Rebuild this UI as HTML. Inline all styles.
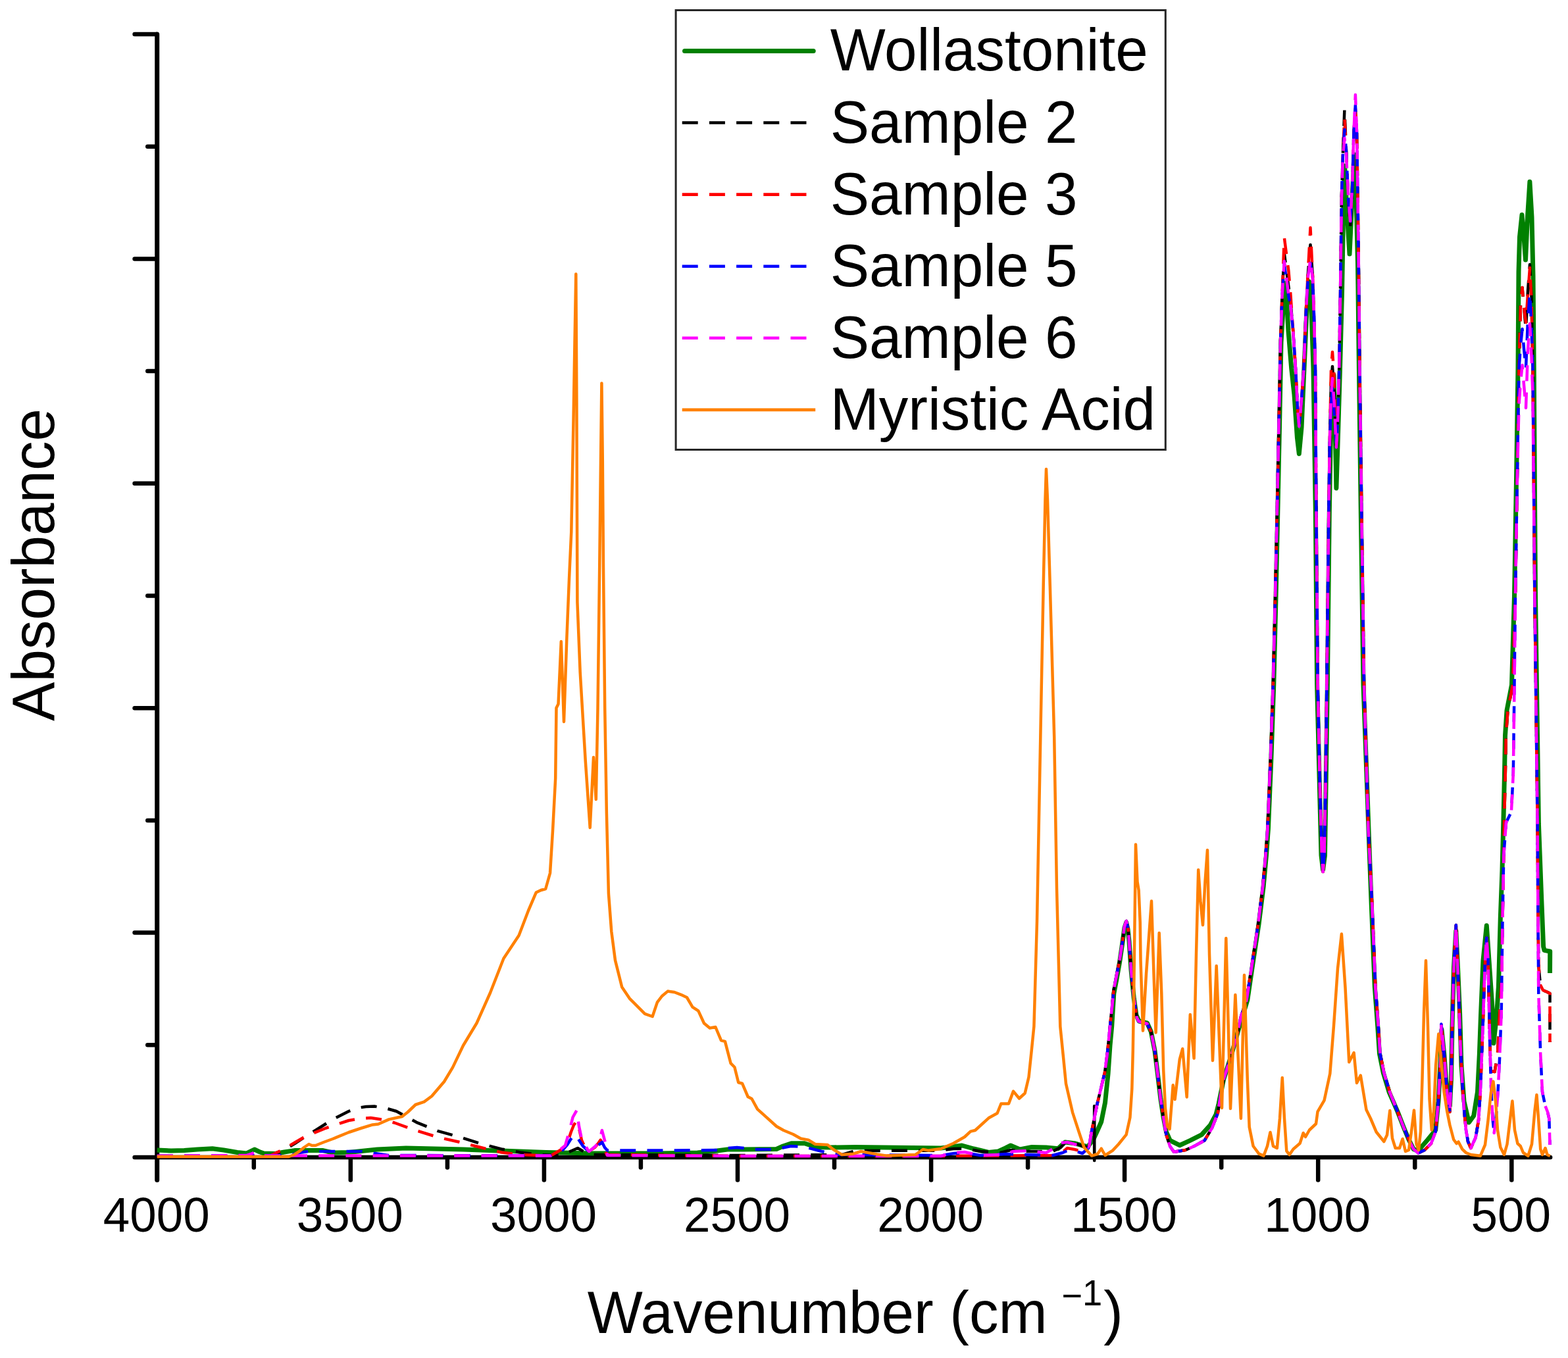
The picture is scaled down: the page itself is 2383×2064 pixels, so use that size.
<!DOCTYPE html>
<html lang="en"><head><meta charset="utf-8"><title>FTIR absorbance spectra</title>
<style>html,body{margin:0;padding:0;background:#fff}svg{display:block}text{font-family:"Liberation Sans",Arial,Helvetica,sans-serif;fill:#000}</style></head><body>
<svg xmlns="http://www.w3.org/2000/svg" width="2383" height="2064" viewBox="0 0 2383 2064">
<rect width="2383" height="2064" fill="#fff"/>
<g stroke="#000" fill="none"><path d="M238.75 52 V1793.4" stroke-width="7" stroke-linecap="round"/><path d="M238.75 1759.0 H2356.1" stroke-width="6.6" stroke-linecap="round"/><g stroke-width="6.5" stroke-linecap="round"><path d="M204.6 52.0 H237.75"/><path d="M224.3 222.7 H237.75"/><path d="M204.6 393.4 H237.75"/><path d="M224.3 564.1 H237.75"/><path d="M204.6 734.8 H237.75"/><path d="M224.3 905.5 H237.75"/><path d="M204.6 1076.2 H237.75"/><path d="M224.3 1246.9 H237.75"/><path d="M204.6 1417.6 H237.75"/><path d="M224.3 1588.3 H237.75"/><path d="M204.6 1759.0 H237.75"/><path d="M532.8 1760.0 V1793.4"/><path d="M826.9 1760.0 V1793.4"/><path d="M1121.0 1760.0 V1793.4"/><path d="M1415.1 1760.0 V1793.4"/><path d="M1709.1 1760.0 V1793.4"/><path d="M2003.2 1760.0 V1793.4"/><path d="M2297.3 1760.0 V1793.4"/><path d="M385.8 1760.0 V1774.6"/><path d="M679.9 1760.0 V1774.6"/><path d="M973.9 1760.0 V1774.6"/><path d="M1268.0 1760.0 V1774.6"/><path d="M1562.1 1760.0 V1774.6"/><path d="M1856.2 1760.0 V1774.6"/><path d="M2150.3 1760.0 V1774.6"/></g></g>
<g>
<path d="M238.8 1748.0 L260.0 1749.0 L280.0 1748.5 L300.0 1747.0 L322.8 1745.7 L340.0 1748.0 L360.6 1751.5 L375.0 1753.0 L381.0 1750.0 L386.7 1747.0 L394.0 1750.5 L401.0 1753.0 L418.6 1753.5 L432.0 1751.0 L447.6 1748.6 L491.0 1748.6 L505.6 1752.0 L530.0 1751.5 L573.5 1747.0 L617.0 1745.0 L704.0 1747.0 L830.0 1751.5 L900.0 1753.0 L1000.0 1753.0 L1060.0 1752.0 L1090.0 1749.0 L1105.6 1747.0 L1130.0 1747.0 L1180.0 1746.5 L1190.0 1742.0 L1202.5 1737.7 L1222.8 1737.7 L1240.0 1743.5 L1260.6 1744.0 L1300.0 1743.5 L1430.0 1745.0 L1450.0 1742.5 L1462.0 1741.0 L1480.0 1746.0 L1502.5 1751.5 L1517.0 1750.0 L1528.0 1745.0 L1536.0 1741.0 L1543.0 1744.0 L1550.0 1747.0 L1568.0 1743.5 L1590.0 1744.0 L1608.0 1745.7 L1613.0 1741.0 L1618.6 1736.0 L1633.0 1737.7 L1644.7 1741.0 L1653.4 1742.8 L1662.0 1731.0 L1668.0 1718.0 L1673.7 1705.0 L1679.5 1676.0 L1684.0 1632.5 L1687.0 1589.0 L1689.7 1560.0 L1692.8 1510.0 L1697.0 1488.0 L1701.5 1463.0 L1706.0 1432.0 L1709.0 1410.0 L1711.7 1402.0 L1714.0 1412.0 L1716.0 1430.6 L1719.0 1474.0 L1723.3 1517.6 L1727.0 1543.0 L1731.0 1552.0 L1743.5 1555.0 L1749.3 1568.0 L1755.0 1597.0 L1759.5 1633.3 L1763.8 1669.6 L1768.2 1698.6 L1772.5 1720.4 L1778.3 1733.4 L1792.8 1740.7 L1808.8 1733.4 L1826.2 1724.7 L1839.3 1710.2 L1848.0 1694.0 L1852.3 1676.8 L1859.6 1640.6 L1871.2 1604.3 L1881.3 1568.0 L1888.0 1546.0 L1895.8 1520.0 L1904.2 1463.0 L1913.0 1405.0 L1920.2 1347.0 L1924.5 1300.0 L1927.4 1260.0 L1932.0 1150.0 L1935.8 1040.0 L1939.0 910.0 L1941.8 780.0 L1944.5 650.0 L1947.0 520.0 L1950.0 470.0 L1954.0 430.0 L1958.0 503.0 L1962.7 560.0 L1967.0 600.0 L1971.4 665.0 L1974.3 689.7 L1978.0 650.0 L1982.0 560.0 L1986.0 470.0 L1989.5 428.0 L1993.0 470.0 L1996.0 560.0 L1999.4 780.0 L2001.6 1040.0 L2008.0 1300.0 L2010.6 1322.0 L2013.5 1300.0 L2017.4 1040.0 L2020.3 780.0 L2022.0 680.0 L2024.5 600.0 L2027.0 570.0 L2029.0 640.0 L2030.9 742.0 L2033.5 660.0 L2036.5 560.0 L2039.5 445.0 L2041.5 330.0 L2043.6 252.0 L2047.0 320.0 L2051.0 386.0 L2055.0 300.0 L2058.4 235.0 L2061.0 300.0 L2063.5 400.0 L2065.4 560.0 L2068.3 780.0 L2072.0 1040.0 L2081.4 1300.0 L2084.3 1376.0 L2089.3 1500.0 L2093.6 1558.0 L2096.5 1601.6 L2102.3 1630.6 L2111.0 1659.6 L2123.6 1688.6 L2133.8 1714.7 L2141.0 1732.0 L2148.3 1746.6 L2155.5 1749.0 L2161.3 1742.0 L2170.0 1732.0 L2181.7 1717.6 L2186.0 1674.0 L2189.0 1616.0 L2191.0 1565.0 L2194.7 1601.5 L2199.0 1659.6 L2203.4 1681.0 L2205.5 1640.0 L2207.0 1560.0 L2209.5 1470.0 L2212.8 1415.0 L2215.5 1470.0 L2218.6 1540.0 L2221.0 1620.0 L2225.0 1674.0 L2232.4 1706.0 L2239.7 1696.0 L2245.5 1659.6 L2248.4 1601.6 L2250.5 1543.5 L2254.0 1460.0 L2259.3 1406.7 L2263.0 1460.0 L2265.8 1500.0 L2268.7 1543.5 L2270.0 1585.6 L2274.5 1543.5 L2277.4 1500.0 L2280.3 1395.0 L2283.0 1322.5 L2284.8 1252.0 L2286.5 1176.0 L2287.5 1118.0 L2290.0 1080.0 L2297.5 1041.0 L2301.5 906.0 L2304.5 730.0 L2307.0 560.0 L2308.0 413.0 L2309.5 360.0 L2313.0 326.5 L2316.0 360.0 L2318.5 395.0 L2321.5 330.0 L2324.9 276.2 L2328.0 330.0 L2330.0 420.0 L2331.2 560.0 L2333.5 906.0 L2338.4 1252.0 L2342.7 1366.0 L2345.6 1438.6 L2347.0 1444.4 L2355.7 1446.0 L2355.5 1479.0" fill="none" stroke="#008000" stroke-width="7.0" stroke-linejoin="round"/>
<path d="M238.8 1757.0 L415.0 1757.0 L423.0 1752.0 L435.0 1745.5 L447.6 1738.4 L463.0 1728.0 L479.5 1718.0 L505.6 1701.4 L530.0 1689.0 L543.0 1684.0 L556.0 1682.0 L569.0 1681.6 L585.0 1684.0 L602.5 1689.0 L633.0 1705.8 L665.0 1718.9 L696.8 1727.6 L728.8 1737.7 L762.0 1746.4 L791.0 1751.5 L820.0 1755.0 L850.0 1756.0 L862.0 1752.0 L878.0 1745.0 L890.0 1752.0 L900.0 1755.0 L1130.0 1756.0 L1280.0 1755.0 L1300.0 1749.0 L1430.0 1748.6 L1449.0 1746.0 L1466.0 1745.5 L1490.0 1750.0 L1520.0 1752.0 L1536.0 1748.0 L1560.0 1750.0 L1600.0 1750.0 L1612.0 1744.0 L1620.0 1735.0 L1633.0 1737.0 L1645.0 1742.0 L1655.0 1744.0" fill="none" stroke="#000000" stroke-width="4.5" stroke-linejoin="round" stroke-dasharray="24 17.2" stroke-dashoffset="0.0"/>
<path d="M1663.2 1681 V1764" fill="none" stroke="#000" stroke-width="4.6" stroke-linecap="round"/>
<path d="M1655.0 1744.0 L1658.0 1725.0 L1662.0 1705.0 L1667.0 1680.0 L1673.0 1655.0 L1679.0 1630.0 L1683.0 1600.0 L1687.0 1560.0 L1692.8 1503.0 L1701.5 1459.6 L1706.0 1430.6 L1708.8 1408.8 L1711.7 1400.0 L1714.5 1412.0 L1716.0 1430.6 L1719.0 1474.0 L1723.3 1517.6 L1727.7 1546.6 L1730.6 1552.4 L1743.5 1556.0 L1749.3 1568.0 L1755.0 1597.0 L1759.5 1633.3 L1763.8 1669.6 L1768.2 1698.6 L1772.5 1725.0 L1778.0 1742.0 L1784.0 1750.8 L1801.5 1748.0 L1815.0 1742.0 L1830.6 1733.4 L1842.0 1714.5 L1850.9 1691.3 L1855.0 1665.0 L1859.6 1640.6 L1871.2 1604.3 L1881.3 1568.0 L1885.7 1546.0 L1894.5 1520.0 L1903.2 1463.0 L1912.0 1405.0 L1919.2 1347.0 L1923.5 1300.0 L1926.4 1260.0 L1931.0 1150.0 L1934.8 1040.0 L1938.0 910.0 L1940.8 780.0 L1943.5 650.0 L1946.0 520.0 L1948.5 450.0 L1951.8 385.0 L1955.0 410.0 L1958.3 435.0 L1961.2 457.0 L1965.0 500.0 L1969.0 560.0 L1972.0 620.0 L1974.3 648.0 L1977.0 620.0 L1981.5 560.0 L1984.5 480.0 L1987.5 420.0 L1991.5 372.0 L1995.0 420.0 L1997.0 480.0 L1999.0 560.0 L2000.4 780.0 L2002.6 1040.0 L2006.0 1200.0 L2009.0 1300.0 L2010.6 1325.0 L2012.5 1300.0 L2014.5 1200.0 L2016.4 1040.0 L2018.0 900.0 L2019.3 780.0 L2021.0 665.0 L2023.0 582.0 L2025.0 557.0 L2027.5 592.0 L2029.5 650.0 L2030.9 680.0 L2033.0 640.0 L2035.2 560.0 L2037.0 445.0 L2038.9 300.0 L2041.0 230.0 L2043.4 166.0 L2046.0 230.0 L2049.0 305.0 L2052.0 345.0 L2055.0 295.0 L2057.5 200.0 L2059.9 170.0 L2062.0 200.0 L2063.5 300.0 L2065.0 420.0 L2066.4 560.0 L2069.3 780.0 L2073.0 1040.0 L2079.5 1260.0 L2085.3 1376.0 L2090.3 1500.0 L2094.6 1558.0 L2097.5 1601.6 L2103.3 1630.6 L2112.0 1659.6 L2123.6 1688.6 L2133.8 1714.7 L2141.0 1732.0 L2148.3 1746.6 L2155.5 1752.4 L2165.0 1748.0 L2175.0 1738.0 L2181.7 1720.0 L2186.0 1674.0 L2189.0 1616.0 L2190.4 1556.6 L2194.7 1601.5 L2199.0 1659.6 L2203.4 1690.0 L2205.5 1640.0 L2207.0 1560.0 L2209.5 1470.0 L2212.8 1406.0 L2216.5 1500.0 L2219.4 1587.0 L2222.3 1645.0 L2225.2 1688.6 L2228.0 1717.6 L2231.0 1735.0 L2235.3 1745.0 L2242.6 1729.0 L2247.0 1703.0 L2249.8 1659.6 L2252.0 1601.6 L2254.2 1543.5 L2255.6 1500.0 L2257.5 1450.0 L2259.3 1425.5 L2261.5 1460.0 L2264.3 1587.0 L2265.8 1627.7 L2271.6 1629.0 L2276.0 1601.6 L2279.0 1540.0 L2281.7 1500.0 L2283.5 1400.0 L2285.3 1300.0 L2286.0 1252.0 L2287.8 1176.0 L2288.8 1118.0 L2291.5 1080.0 L2299.0 1041.0 L2303.0 906.0 L2305.8 730.0 L2308.5 560.0 L2311.0 462.0 L2313.5 437.0 L2316.0 467.0 L2319.0 500.0 L2322.0 442.0 L2325.0 402.0 L2327.5 452.0 L2329.5 560.0 L2332.4 906.0 L2336.6 1252.0 L2337.5 1400.0 L2338.5 1470.0 L2341.0 1497.0 L2345.0 1505.0 L2352.0 1508.0 L2355.5 1510.0 L2355.5 1584.0" fill="none" stroke="#000000" stroke-width="4.5" stroke-linejoin="round" stroke-dasharray="24 17.2" stroke-dashoffset="23.2"/>
<path d="M238.8 1757.0 L410.0 1757.0 L420.0 1752.0 L433.0 1745.7 L449.0 1736.0 L465.0 1726.8 L495.5 1714.5 L530.0 1703.0 L548.0 1700.0 L563.4 1699.0 L580.0 1701.5 L599.6 1706.5 L631.5 1718.0 L665.0 1728.3 L696.8 1735.5 L728.8 1743.5 L762.0 1751.5 L791.0 1755.0 L837.0 1756.5 L855.0 1746.0 L863.0 1735.0 L868.0 1720.0 L872.0 1710.0 L876.4 1703.6 L880.0 1715.0 L884.0 1733.0 L890.0 1746.0 L895.0 1750.0 L904.0 1744.0 L909.0 1738.0 L912.7 1732.6 L917.0 1742.0 L922.0 1755.0 L1130.0 1757.0 L1430.0 1757.0 L1600.0 1756.0 L1614.0 1752.0 L1622.0 1745.0 L1633.0 1747.0 L1645.0 1750.0 L1655.0 1744.0" fill="none" stroke="#ff0000" stroke-width="4.5" stroke-linejoin="round" stroke-dasharray="24 17.2" stroke-dashoffset="0.0"/>
<path d="M1655.0 1744.0 L1658.0 1725.0 L1662.0 1705.0 L1667.0 1680.0 L1673.0 1655.0 L1679.0 1630.0 L1683.0 1600.0 L1687.0 1560.0 L1692.8 1503.0 L1701.5 1459.6 L1706.0 1430.6 L1708.8 1408.8 L1711.7 1400.0 L1714.5 1412.0 L1716.0 1430.6 L1719.0 1474.0 L1723.3 1517.6 L1727.7 1546.6 L1730.6 1552.4 L1743.5 1556.0 L1749.3 1568.0 L1755.0 1597.0 L1759.5 1633.3 L1763.8 1669.6 L1768.2 1698.6 L1772.5 1725.0 L1778.0 1742.0 L1784.0 1750.8 L1801.5 1748.0 L1815.0 1742.0 L1830.6 1733.4 L1842.0 1714.5 L1850.9 1691.3 L1855.0 1665.0 L1859.6 1640.6 L1871.2 1604.3 L1881.3 1568.0 L1885.7 1546.0 L1894.5 1520.0 L1903.2 1463.0 L1912.0 1405.0 L1919.2 1347.0 L1923.5 1300.0 L1926.4 1260.0 L1931.0 1150.0 L1934.8 1040.0 L1938.0 910.0 L1940.8 780.0 L1943.5 650.0 L1946.0 520.0 L1948.5 450.0 L1951.8 361.0 L1955.0 386.0 L1958.3 411.0 L1961.2 445.0 L1965.0 500.0 L1969.0 560.0 L1972.0 620.0 L1974.3 648.0 L1977.0 620.0 L1981.5 560.0 L1984.5 480.0 L1987.5 420.0 L1991.5 346.0 L1995.0 420.0 L1997.0 480.0 L1999.0 560.0 L2000.4 780.0 L2002.6 1040.0 L2006.0 1200.0 L2009.0 1300.0 L2010.6 1325.0 L2012.5 1300.0 L2014.5 1200.0 L2016.4 1040.0 L2018.0 900.0 L2019.3 780.0 L2021.0 665.0 L2023.0 560.0 L2025.0 535.0 L2027.5 570.0 L2029.5 650.0 L2030.9 680.0 L2033.0 640.0 L2035.2 560.0 L2037.0 445.0 L2038.9 300.0 L2041.0 230.0 L2043.4 179.0 L2046.0 230.0 L2049.0 300.0 L2052.0 340.0 L2055.0 290.0 L2057.5 200.0 L2059.9 165.0 L2062.0 200.0 L2063.5 300.0 L2065.0 420.0 L2066.4 560.0 L2069.3 780.0 L2073.0 1040.0 L2079.5 1260.0 L2085.3 1376.0 L2090.3 1500.0 L2094.6 1558.0 L2097.5 1601.6 L2103.3 1630.6 L2112.0 1659.6 L2123.6 1688.6 L2133.8 1714.7 L2141.0 1732.0 L2148.3 1746.6 L2155.5 1752.4 L2165.0 1748.0 L2175.0 1738.0 L2181.7 1720.0 L2186.0 1674.0 L2189.0 1616.0 L2190.4 1556.6 L2194.7 1601.5 L2199.0 1659.6 L2203.4 1690.0 L2205.5 1640.0 L2207.0 1560.0 L2209.5 1470.0 L2212.8 1406.0 L2216.5 1500.0 L2219.4 1587.0 L2222.3 1645.0 L2225.2 1688.6 L2228.0 1717.6 L2231.0 1735.0 L2235.3 1745.0 L2242.6 1729.0 L2247.0 1703.0 L2249.8 1659.6 L2252.0 1601.6 L2254.2 1543.5 L2255.6 1500.0 L2257.5 1450.0 L2259.3 1425.5 L2261.5 1460.0 L2264.3 1587.0 L2265.8 1627.7 L2271.6 1629.0 L2276.0 1601.6 L2279.0 1540.0 L2281.7 1500.0 L2283.5 1400.0 L2285.3 1300.0 L2286.0 1252.0 L2287.8 1176.0 L2288.8 1118.0 L2291.5 1080.0 L2299.0 1041.0 L2303.0 906.0 L2305.8 730.0 L2308.5 560.0 L2311.0 462.0 L2313.5 437.0 L2316.0 467.0 L2319.0 490.0 L2322.0 447.0 L2325.0 407.0 L2327.5 457.0 L2329.5 560.0 L2332.4 906.0 L2336.6 1252.0 L2337.5 1400.0 L2338.5 1470.0 L2341.0 1497.0 L2345.0 1505.0 L2352.0 1508.0 L2355.5 1510.0 L2355.5 1584.0" fill="none" stroke="#ff0000" stroke-width="4.5" stroke-linejoin="round" stroke-dasharray="24 17.2" stroke-dashoffset="29.2"/>
<path d="M238.8 1757.0 L440.0 1756.0 L455.0 1752.0 L469.0 1750.0 L520.0 1750.0 L550.0 1750.0 L570.0 1753.0 L590.0 1756.0 L837.0 1756.5 L855.0 1748.0 L862.0 1740.0 L867.0 1732.0 L873.5 1724.0 L880.0 1733.0 L886.0 1742.0 L893.8 1749.0 L903.0 1746.0 L910.0 1740.0 L915.0 1736.0 L919.0 1744.0 L923.0 1748.6 L1000.0 1748.6 L1090.0 1748.0 L1105.0 1745.0 L1120.0 1744.0 L1150.0 1747.0 L1180.0 1747.0 L1192.0 1744.0 L1202.0 1742.0 L1222.0 1743.0 L1249.0 1750.0 L1275.0 1755.0 L1430.0 1756.0 L1450.0 1753.0 L1466.0 1752.0 L1490.0 1756.0 L1530.0 1754.0 L1560.0 1755.0 L1600.0 1756.0 L1615.0 1752.0 L1624.0 1748.0 L1636.0 1750.0 L1645.0 1753.0 L1655.0 1744.0" fill="none" stroke="#0000ff" stroke-width="4.5" stroke-linejoin="round" stroke-dasharray="24 17.2" stroke-dashoffset="0.0"/>
<path d="M1655.0 1744.0 L1658.0 1725.0 L1662.0 1705.0 L1667.0 1680.0 L1673.0 1655.0 L1679.0 1630.0 L1683.0 1600.0 L1687.0 1560.0 L1692.8 1503.0 L1701.5 1459.6 L1706.0 1430.6 L1708.8 1408.8 L1711.7 1400.0 L1714.5 1412.0 L1716.0 1430.6 L1719.0 1474.0 L1723.3 1517.6 L1727.7 1546.6 L1730.6 1552.4 L1743.5 1556.0 L1749.3 1568.0 L1755.0 1597.0 L1759.5 1633.3 L1763.8 1669.6 L1768.2 1698.6 L1772.5 1725.0 L1778.0 1742.0 L1784.0 1750.8 L1801.5 1748.0 L1815.0 1742.0 L1830.6 1733.4 L1842.0 1714.5 L1850.9 1691.3 L1855.0 1665.0 L1859.6 1640.6 L1871.2 1604.3 L1881.3 1568.0 L1885.7 1546.0 L1894.5 1520.0 L1903.2 1463.0 L1912.0 1405.0 L1919.2 1347.0 L1923.5 1300.0 L1926.4 1260.0 L1931.0 1150.0 L1934.8 1040.0 L1938.0 910.0 L1940.8 780.0 L1943.5 650.0 L1946.0 520.0 L1948.5 450.0 L1951.8 400.0 L1955.0 425.0 L1958.3 450.0 L1961.2 464.5 L1965.0 500.0 L1969.0 560.0 L1972.0 620.0 L1974.3 648.0 L1977.0 620.0 L1981.5 560.0 L1984.5 480.0 L1987.5 430.0 L1991.5 400.0 L1995.0 430.0 L1997.0 480.0 L1999.0 560.0 L2000.4 780.0 L2002.6 1040.0 L2006.0 1200.0 L2009.0 1300.0 L2010.6 1325.0 L2012.5 1300.0 L2014.5 1200.0 L2016.4 1040.0 L2018.0 900.0 L2019.3 780.0 L2021.0 665.0 L2023.0 615.0 L2025.0 590.0 L2027.5 625.0 L2029.5 650.0 L2030.9 680.0 L2033.0 640.0 L2035.2 560.0 L2037.0 445.0 L2038.9 300.0 L2041.0 230.0 L2043.4 197.0 L2046.0 230.0 L2049.0 300.0 L2052.0 340.0 L2055.0 290.0 L2057.5 200.0 L2059.9 160.0 L2062.0 200.0 L2063.5 300.0 L2065.0 420.0 L2066.4 560.0 L2069.3 780.0 L2073.0 1040.0 L2079.5 1260.0 L2085.3 1376.0 L2090.3 1500.0 L2094.6 1558.0 L2097.5 1601.6 L2103.3 1630.6 L2112.0 1659.6 L2123.6 1688.6 L2133.8 1714.7 L2141.0 1732.0 L2148.3 1746.6 L2155.5 1752.4 L2165.0 1748.0 L2175.0 1738.0 L2181.7 1720.0 L2186.0 1674.0 L2189.0 1616.0 L2190.4 1556.6 L2194.7 1601.5 L2199.0 1659.6 L2203.4 1690.0 L2205.5 1640.0 L2207.0 1560.0 L2209.5 1470.0 L2212.8 1406.0 L2216.5 1500.0 L2219.4 1587.0 L2222.3 1645.0 L2225.2 1688.6 L2228.0 1717.6 L2231.0 1735.0 L2235.3 1745.0 L2242.6 1729.0 L2247.0 1703.0 L2249.8 1659.6 L2252.0 1601.6 L2254.2 1543.5 L2255.6 1500.0 L2257.5 1450.0 L2259.3 1425.5 L2261.5 1460.0 L2264.3 1587.0 L2266.0 1650.0 L2268.5 1700.0 L2270.7 1722.0 L2273.5 1700.0 L2276.5 1660.0 L2279.0 1610.0 L2281.7 1540.0 L2283.5 1400.0 L2285.3 1300.0 L2289.0 1250.0 L2296.9 1234.0 L2299.8 1176.0 L2300.8 1099.0 L2301.5 1041.0 L2303.0 906.0 L2305.8 730.0 L2308.5 560.0 L2311.0 525.0 L2313.5 500.0 L2316.0 530.0 L2319.0 560.0 L2322.0 486.0 L2325.0 446.0 L2327.5 496.0 L2329.5 560.0 L2332.4 906.0 L2336.6 1252.0 L2337.5 1400.0 L2338.3 1510.0 L2341.2 1601.6 L2344.0 1659.6 L2348.5 1681.0 L2352.0 1690.0 L2354.3 1700.0 L2355.5 1740.0" fill="none" stroke="#0000ff" stroke-width="4.5" stroke-linejoin="round" stroke-dasharray="24 17.2" stroke-dashoffset="35.2"/>
<path d="M238.8 1757.0 L375.0 1756.0 L381.0 1754.0 L386.7 1751.5 L393.0 1754.5 L400.0 1756.5 L837.0 1756.5 L848.0 1750.0 L859.0 1741.0 L865.0 1720.0 L870.6 1698.0 L876.4 1687.7 L880.0 1712.0 L884.0 1731.0 L893.8 1748.6 L895.3 1750.0 L905.0 1742.0 L911.0 1735.0 L914.9 1718.0 L920.0 1737.0 L923.0 1756.0 L1130.0 1757.0 L1430.0 1757.0 L1449.0 1752.0 L1466.0 1751.0 L1490.0 1756.0 L1520.0 1755.0 L1540.0 1750.0 L1560.0 1749.0 L1590.0 1752.0 L1604.0 1744.0 L1612.0 1737.0 L1622.0 1736.0 L1636.0 1740.0 L1645.0 1742.0 L1655.0 1744.0" fill="none" stroke="#ff00ff" stroke-width="4.5" stroke-linejoin="round" stroke-dasharray="24 17.2" stroke-dashoffset="0.0"/>
<path d="M1655.0 1744.0 L1658.0 1725.0 L1662.0 1705.0 L1667.0 1680.0 L1673.0 1655.0 L1679.0 1630.0 L1683.0 1600.0 L1687.0 1560.0 L1692.8 1503.0 L1701.5 1459.6 L1706.0 1430.6 L1708.8 1408.8 L1711.7 1400.0 L1714.5 1412.0 L1716.0 1430.6 L1719.0 1474.0 L1723.3 1517.6 L1727.7 1546.6 L1730.6 1552.4 L1743.5 1556.0 L1749.3 1568.0 L1755.0 1597.0 L1759.5 1633.3 L1763.8 1669.6 L1768.2 1698.6 L1772.5 1725.0 L1778.0 1742.0 L1784.0 1750.8 L1801.5 1748.0 L1815.0 1742.0 L1830.6 1733.4 L1842.0 1714.5 L1850.9 1691.3 L1855.0 1665.0 L1859.6 1640.6 L1871.2 1604.3 L1881.3 1568.0 L1885.7 1546.0 L1894.5 1520.0 L1903.2 1463.0 L1912.0 1405.0 L1919.2 1347.0 L1923.5 1300.0 L1926.4 1260.0 L1931.0 1150.0 L1934.8 1040.0 L1938.0 910.0 L1940.8 780.0 L1943.5 650.0 L1946.0 520.0 L1948.5 450.0 L1951.8 397.0 L1955.0 422.0 L1958.3 447.0 L1961.2 463.0 L1965.0 500.0 L1969.0 560.0 L1972.0 620.0 L1974.3 648.0 L1977.0 620.0 L1981.5 560.0 L1984.5 480.0 L1987.5 424.0 L1991.5 394.0 L1995.0 424.0 L1997.0 480.0 L1999.0 560.0 L2000.4 780.0 L2002.6 1040.0 L2006.0 1200.0 L2009.0 1300.0 L2010.6 1325.0 L2012.5 1300.0 L2014.5 1200.0 L2016.4 1040.0 L2018.0 900.0 L2019.3 780.0 L2021.0 665.0 L2023.0 600.0 L2025.0 575.0 L2027.5 610.0 L2029.5 650.0 L2030.9 680.0 L2033.0 640.0 L2035.2 560.0 L2037.0 445.0 L2038.9 300.0 L2041.0 235.0 L2043.4 210.0 L2046.0 235.0 L2049.0 296.0 L2052.0 336.0 L2055.0 286.0 L2057.5 200.0 L2059.9 144.0 L2062.0 200.0 L2063.5 300.0 L2065.0 420.0 L2066.4 560.0 L2069.3 780.0 L2073.0 1040.0 L2079.5 1260.0 L2085.3 1376.0 L2090.3 1500.0 L2094.6 1558.0 L2097.5 1601.6 L2103.3 1630.6 L2112.0 1659.6 L2123.6 1688.6 L2133.8 1714.7 L2141.0 1732.0 L2148.3 1746.6 L2155.5 1752.4 L2165.0 1748.0 L2175.0 1738.0 L2181.7 1720.0 L2186.0 1674.0 L2189.0 1616.0 L2190.4 1556.6 L2194.7 1601.5 L2199.0 1659.6 L2203.4 1690.0 L2205.5 1640.0 L2207.0 1560.0 L2209.5 1470.0 L2212.8 1406.0 L2216.5 1500.0 L2219.4 1587.0 L2222.3 1645.0 L2225.2 1688.6 L2228.0 1717.6 L2231.0 1735.0 L2235.3 1745.0 L2242.6 1729.0 L2247.0 1703.0 L2249.8 1659.6 L2252.0 1601.6 L2254.2 1543.5 L2255.6 1500.0 L2257.5 1450.0 L2259.3 1425.5 L2261.5 1460.0 L2264.3 1587.0 L2266.0 1650.0 L2268.5 1700.0 L2270.7 1722.0 L2273.5 1700.0 L2276.5 1660.0 L2279.0 1610.0 L2281.7 1540.0 L2283.5 1400.0 L2285.3 1300.0 L2289.0 1250.0 L2296.9 1234.0 L2299.8 1176.0 L2300.8 1099.0 L2301.5 1041.0 L2303.0 906.0 L2305.8 730.0 L2308.5 615.0 L2311.0 580.0 L2313.5 555.0 L2316.0 585.0 L2319.0 620.0 L2322.0 532.0 L2325.0 492.0 L2327.5 542.0 L2329.5 602.0 L2332.4 906.0 L2336.6 1252.0 L2337.5 1400.0 L2338.3 1510.0 L2341.2 1601.6 L2344.0 1659.6 L2348.5 1681.0 L2352.0 1690.0 L2354.3 1700.0 L2355.5 1740.0" fill="none" stroke="#ff00ff" stroke-width="4.5" stroke-linejoin="round" stroke-dasharray="24 17.2" stroke-dashoffset="0.0"/>
<path d="M238.8 1758.0 L439.0 1758.0 L447.0 1755.0 L454.9 1750.0 L462.0 1744.0 L469.4 1739.0 L474.0 1741.0 L479.5 1741.0 L492.0 1736.0 L505.6 1731.0 L530.0 1721.0 L548.0 1715.0 L566.3 1709.4 L575.0 1708.5 L591.0 1701.4 L611.2 1697.0 L620.0 1690.0 L631.5 1679.0 L644.6 1674.6 L656.2 1666.0 L675.0 1644.0 L688.0 1622.4 L704.0 1589.0 L724.5 1555.0 L745.0 1509.0 L765.4 1456.7 L788.6 1421.8 L803.0 1384.0 L814.7 1356.6 L822.0 1353.0 L829.2 1351.0 L836.0 1327.0 L840.0 1263.0 L844.2 1183.0 L845.5 1076.0 L848.5 1070.0 L852.8 975.0 L857.0 1097.0 L861.4 969.0 L865.0 880.0 L868.3 808.0 L871.5 640.0 L873.5 520.0 L875.3 416.4 L876.4 610.0 L877.4 915.0 L881.7 1022.0 L889.7 1156.0 L896.7 1258.0 L902.0 1151.0 L905.8 1215.0 L908.5 1076.0 L911.2 862.0 L913.0 700.0 L914.4 582.4 L915.8 700.0 L917.0 862.0 L919.2 1076.0 L921.9 1236.6 L924.9 1358.0 L929.3 1416.0 L935.0 1459.6 L945.2 1500.2 L956.8 1517.6 L980.0 1540.8 L991.6 1545.0 L998.9 1523.4 L1006.0 1514.0 L1014.8 1506.6 L1025.0 1508.0 L1035.0 1511.8 L1043.9 1516.0 L1052.5 1530.6 L1061.3 1536.4 L1070.0 1555.3 L1078.7 1562.5 L1087.4 1561.0 L1096.0 1581.4 L1101.9 1582.9 L1110.6 1616.2 L1116.4 1622.0 L1122.2 1645.2 L1128.0 1646.7 L1136.7 1667.0 L1142.5 1670.0 L1151.2 1685.8 L1165.7 1698.9 L1180.2 1712.0 L1190.9 1718.0 L1205.4 1724.0 L1217.0 1730.5 L1228.7 1732.6 L1238.8 1739.0 L1257.7 1740.0 L1266.4 1747.0 L1279.4 1755.0 L1296.8 1753.7 L1308.4 1750.0 L1333.0 1754.4 L1347.6 1756.6 L1391.0 1755.0 L1402.7 1747.0 L1411.4 1748.6 L1430.0 1746.0 L1449.0 1737.7 L1466.0 1728.0 L1475.0 1719.6 L1482.0 1718.0 L1502.5 1699.3 L1515.6 1692.0 L1521.4 1677.5 L1533.0 1677.5 L1540.0 1658.6 L1549.0 1669.5 L1557.7 1661.5 L1563.5 1637.0 L1567.8 1596.0 L1571.4 1560.0 L1576.0 1400.0 L1581.3 1120.0 L1585.7 890.0 L1588.5 760.0 L1590.0 713.0 L1592.0 760.0 L1595.8 890.0 L1602.2 1120.0 L1606.0 1350.0 L1611.3 1560.0 L1615.7 1603.5 L1620.0 1647.0 L1630.0 1690.6 L1640.4 1722.5 L1647.6 1744.0 L1659.0 1756.6 L1668.0 1754.0 L1673.7 1745.7 L1679.5 1756.0 L1691.0 1748.6 L1700.0 1739.0 L1711.6 1724.7 L1717.4 1698.6 L1720.3 1655.0 L1721.8 1597.0 L1723.3 1500.0 L1726.0 1283.5 L1728.5 1340.0 L1730.6 1353.0 L1732.7 1401.5 L1733.5 1459.6 L1737.0 1566.6 L1742.0 1480.0 L1750.0 1369.6 L1753.5 1480.0 L1756.6 1569.5 L1759.0 1500.0 L1761.7 1418.0 L1765.3 1510.0 L1768.2 1626.0 L1771.0 1684.0 L1774.0 1711.6 L1777.6 1716.0 L1781.2 1669.6 L1782.7 1649.3 L1785.6 1671.0 L1792.8 1610.0 L1797.2 1594.0 L1803.7 1667.4 L1808.8 1542.0 L1814.6 1608.6 L1818.0 1450.0 L1821.2 1322.0 L1824.5 1370.0 L1828.0 1406.0 L1831.5 1340.0 L1835.0 1292.0 L1838.0 1450.0 L1843.0 1612.0 L1848.7 1468.0 L1857.0 1684.0 L1863.3 1426.0 L1870.0 1685.0 L1877.4 1512.0 L1885.9 1700.0 L1891.0 1482.0 L1895.8 1640.6 L1898.7 1713.0 L1904.6 1742.0 L1913.3 1753.7 L1920.5 1756.6 L1926.0 1742.0 L1930.5 1721.0 L1935.0 1742.0 L1940.8 1745.0 L1945.0 1700.0 L1948.8 1638.0 L1952.0 1700.0 L1955.3 1749.4 L1959.7 1755.0 L1965.5 1746.5 L1975.6 1737.8 L1980.7 1722.0 L1984.0 1728.0 L1990.0 1717.5 L2000.0 1708.0 L2002.5 1689.7 L2012.6 1672.3 L2021.3 1631.7 L2027.0 1559.0 L2033.0 1472.0 L2038.9 1419.6 L2044.5 1501.0 L2050.3 1614.3 L2057.6 1600.0 L2062.0 1646.0 L2067.8 1634.6 L2076.5 1686.8 L2083.0 1700.0 L2091.7 1720.5 L2103.3 1735.0 L2108.0 1725.0 L2112.3 1688.0 L2116.0 1730.0 L2120.7 1745.0 L2127.0 1745.0 L2131.6 1731.0 L2136.0 1750.0 L2141.0 1748.0 L2145.0 1720.0 L2149.0 1687.5 L2152.6 1739.0 L2156.0 1748.0 L2159.0 1720.0 L2161.5 1640.0 L2164.0 1540.0 L2167.0 1460.0 L2170.0 1560.0 L2172.5 1670.0 L2175.8 1717.6 L2179.0 1690.0 L2182.0 1620.0 L2186.3 1571.5 L2190.4 1616.0 L2194.7 1660.0 L2199.0 1688.0 L2203.4 1710.0 L2209.2 1732.0 L2213.6 1738.0 L2216.5 1735.5 L2222.3 1746.6 L2228.0 1752.0 L2235.3 1755.0 L2249.8 1756.8 L2257.0 1740.0 L2261.5 1703.0 L2266.0 1660.0 L2269.4 1643.6 L2273.0 1674.0 L2276.0 1717.6 L2280.3 1743.7 L2286.0 1755.0 L2290.5 1739.0 L2294.8 1703.0 L2298.4 1673.4 L2302.0 1717.6 L2306.4 1738.0 L2310.8 1742.0 L2315.0 1752.0 L2322.4 1756.8 L2328.0 1739.0 L2332.5 1688.0 L2335.4 1664.0 L2338.3 1703.0 L2341.2 1746.6 L2344.0 1755.0 L2348.5 1745.0 L2351.4 1755.0 L2355.7 1757.0" fill="none" stroke="#ff8000" stroke-width="4.5" stroke-linejoin="round"/>
</g>
<rect x="1027.1" y="15.5" width="744.2" height="668.0" fill="#fff" stroke="#262626" stroke-width="3"/>
<path d="M1040.5 77.4 H1236.2" stroke="#008000" stroke-width="7.0" stroke-linecap="round" fill="none"/>
<text transform="translate(1261.7 107.3) scale(1 1.020)" font-size="89.0">Wollastonite</text>
<path d="M1036.7 186.5 H1226" stroke="#000000" stroke-width="4.6" stroke-dasharray="24 17.2" fill="none"/>
<text transform="translate(1261.7 216.5) scale(1 1.020)" font-size="89.0">Sample 2</text>
<path d="M1036.7 295.6 H1226" stroke="#ff0000" stroke-width="4.6" stroke-dasharray="24 17.2" fill="none"/>
<text transform="translate(1261.7 325.7) scale(1 1.020)" font-size="89.0">Sample 3</text>
<path d="M1036.7 404.7 H1226" stroke="#0000ff" stroke-width="4.6" stroke-dasharray="24 17.2" fill="none"/>
<text transform="translate(1261.7 435.0) scale(1 1.020)" font-size="89.0">Sample 5</text>
<path d="M1036.7 513.8 H1226" stroke="#ff00ff" stroke-width="4.6" stroke-dasharray="24 17.2" fill="none"/>
<text transform="translate(1261.7 544.2) scale(1 1.020)" font-size="89.0">Sample 6</text>
<path d="M1036.7 622.9 H1239.2" stroke="#ff8000" stroke-width="4.8" fill="none"/>
<text transform="translate(1261.7 653.4) scale(1 1.020)" font-size="89.0">Myristic Acid</text>
<text transform="translate(237.8 1872.0) scale(1 1.020)" font-size="72.8" text-anchor="middle">4000</text>
<text transform="translate(531.8 1872.0) scale(1 1.020)" font-size="72.8" text-anchor="middle">3500</text>
<text transform="translate(825.9 1872.0) scale(1 1.020)" font-size="72.8" text-anchor="middle">3000</text>
<text transform="translate(1120.0 1872.0) scale(1 1.020)" font-size="72.8" text-anchor="middle">2500</text>
<text transform="translate(1414.1 1872.0) scale(1 1.020)" font-size="72.8" text-anchor="middle">2000</text>
<text transform="translate(1708.1 1872.0) scale(1 1.020)" font-size="72.8" text-anchor="middle">1500</text>
<text transform="translate(2002.2 1872.0) scale(1 1.020)" font-size="72.8" text-anchor="middle">1000</text>
<text transform="translate(2296.3 1872.0) scale(1 1.020)" font-size="72.8" text-anchor="middle">500</text>
<text transform="translate(892.8 2025.5) scale(1 1.020)" font-size="89.0">Wavenumber (cm <tspan font-size="54.3" dx="-3" dy="-36.5">−</tspan><tspan font-size="54.3" dy="-4.5">1</tspan><tspan font-size="89.0" dx="2" dy="41">)</tspan></text>
<text transform="translate(81.5 858.5) rotate(-90) scale(1 1.020)" font-size="89.0" text-anchor="middle">Absorbance</text>
</svg></body></html>
